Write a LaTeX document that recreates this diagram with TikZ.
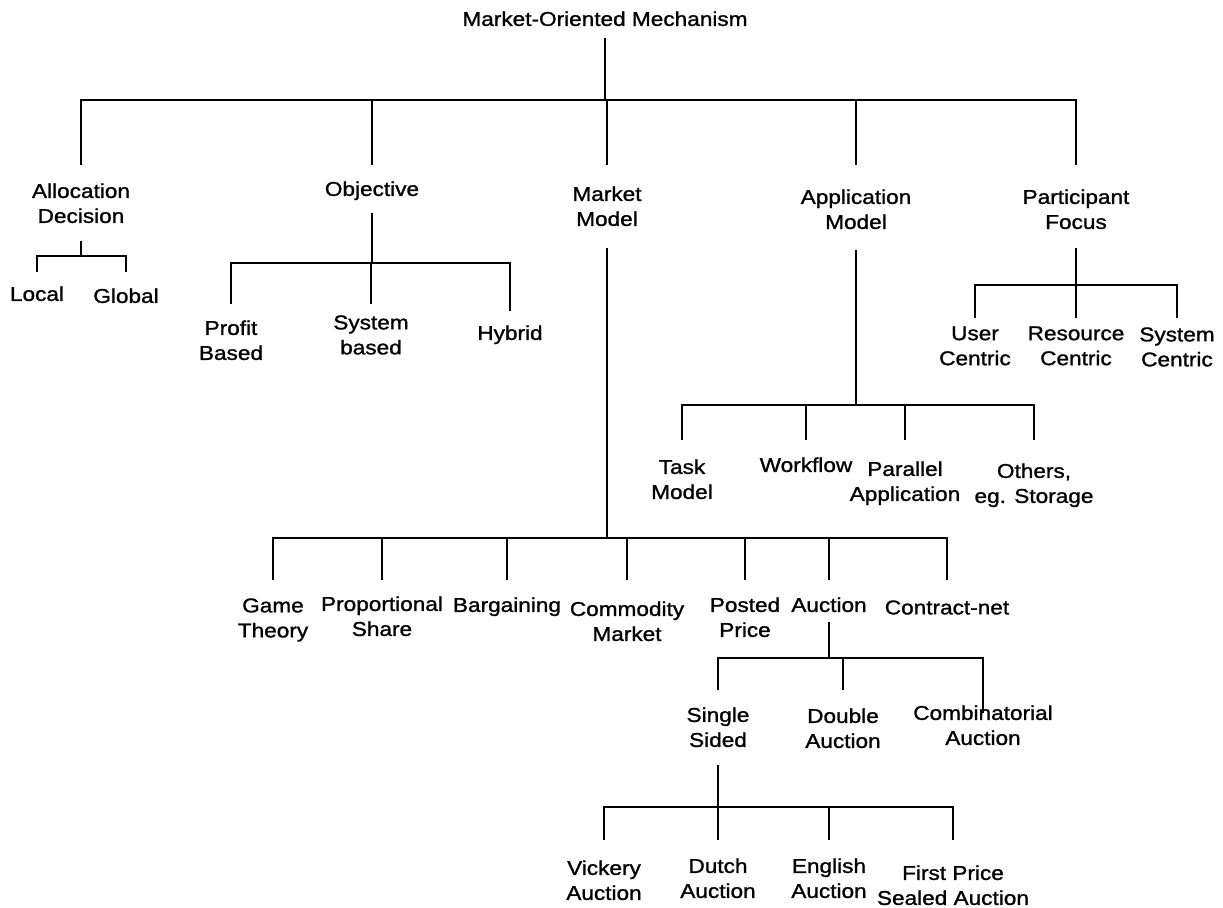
\documentclass[tikz,border=0pt]{standalone}
\usepackage{fontspec}
\setmainfont{Liberation Sans}[FakeStretch=1.13,FakeBold=1.2]
\usepackage{tikz}
\usetikzlibrary{calc}

\begin{document}
\begin{tikzpicture}[x=0.5pt,y=-0.5pt,font=\fontsize{10}{12.5}\selectfont,
  lbl/.style={align=center,inner sep=0pt,anchor=north},
  link/.style={line width=0.85pt},
  stem/.style={line width=1.3pt}]
  \useasboundingbox (0,0) rectangle (1223,907);

  % labels
  \node[lbl] (root) at (605,11) {Market-Oriented Mechanism};

  \node[lbl] (alloc) at (81,183) {Allocation\\Decision};
  \node[lbl] (objective) at (372,181) {Objective};
  \node[lbl] (market) at (607,186) {Market\\Model};
  \node[lbl] (appmodel) at (856,189) {Application\\Model};
  \node[lbl] (partfocus) at (1076,189) {Participant\\Focus};

  \node[lbl] (local) at (37,286) {Local};
  \node[lbl] (global) at (126,288) {Global};

  \node[lbl] (profit) at (231,320) {Profit\\Based};
  \node[lbl] (sysbased) at (371,315) {System\\based};
  \node[lbl] (hybrid) at (510,325) {Hybrid};

  \node[lbl] (user) at (975,326) {User\\Centric};
  \node[lbl] (resource) at (1076,326) {Resource\\Centric};
  \node[lbl] (syscentric) at (1177,327) {System\\Centric};

  \node[lbl] (task) at (682,459) {Task\\Model};
  \node[lbl] (workflow) at (806,457) {Workflow};
  \node[lbl] (parallel) at (905,461) {Parallel\\Application};
  \node[lbl] (others) at (1034,463) {Others,\\eg. Storage};

  \node[lbl] (game) at (273,598) {Game\\Theory};
  \node[lbl] (propshare) at (382,596) {Proportional\\Share};
  \node[lbl] (bargain) at (507,597) {Bargaining};
  \node[lbl] (commodity) at (627,601) {Commodity\\Market};
  \node[lbl] (posted) at (745,597) {Posted\\Price};
  \node[lbl] (auction) at (829,597) {Auction};
  \node[lbl] (contract) at (947,600) {Contract-net};

  \node[lbl] (single) at (718,707) {Single\\Sided};
  \node[lbl] (double) at (843,708) {Double\\Auction};
  \node[lbl] (combin) at (983,705) {Combinatorial\\Auction};

  \node[lbl] (vickery) at (604,860) {Vickery\\Auction};
  \node[lbl] (dutch) at (718,858) {Dutch\\Auction};
  \node[lbl] (english) at (829,858) {English\\Auction};
  \node[lbl] (firstprice) at (953,865) {First Price\\Sealed Auction};

  % bars and drops
  \coordinate (topbar) at (0,100);
  \coordinate (topend) at (0,165);
  \foreach \c in {alloc,objective,market,appmodel,partfocus}
    \draw[link,shorten <=6pt] (root.south) |- (\c |- topbar) -- (\c |- topend);

  \coordinate (allocbar) at (0,256);
  \coordinate (allocend) at (0,272);
  \foreach \c in {local,global}
    \draw[link,shorten <=9pt] (alloc.south) |- (\c |- allocbar) -- (\c |- allocend);

  \coordinate (objbar) at (0,263);
  \coordinate (objend) at (0,304);
  \foreach \c in {profit,sysbased}
    \draw[link,shorten <=6.5pt] (objective.south) |- (\c |- objbar) -- (\c |- objend);
  \coordinate (hybridend) at (0,311);
  \draw[link,shorten <=6.5pt] (objective.south) |- (hybrid |- objbar) -- (hybrid |- hybridend);

  \coordinate (partbar) at (0,285);
  \coordinate (partend) at (0,318);
  \foreach \c in {user,resource,syscentric}
    \draw[link,shorten <=9.5pt] (partfocus.south) |- (\c |- partbar) -- (\c |- partend);
  \draw[stem,shorten <=9.5pt] (partfocus.south) -- (partfocus.south |- partbar);

  \coordinate (appbar) at (0,405);
  \coordinate (append) at (0,440);
  \foreach \c in {task,workflow,parallel,others}
    \draw[link,shorten <=10.5pt] (appmodel.south) |- (\c |- appbar) -- (\c |- append);
  \draw[stem,shorten <=10.5pt] (appmodel.south) -- (appmodel.south |- appbar);

  \coordinate (marketbar) at (0,538);
  \coordinate (marketend) at (0,580);
  \foreach \c in {game,propshare,bargain,commodity,posted,auction,contract}
    \draw[link,shorten <=11pt] (market.south) |- (\c |- marketbar) -- (\c |- marketend);
  \draw[stem,shorten <=11pt] (market.south) -- (market.south |- marketbar);

  \coordinate (auctionbar) at (0,658);
  \coordinate (auctionend) at (0,690);
  \foreach \c in {single,double}
    \draw[link,shorten <=5pt] (auction.south) |- (\c |- auctionbar) -- (\c |- auctionend);
  \coordinate (combinend) at (0,713);
  \draw[link,shorten <=5pt] (auction.south) |- (combin |- auctionbar) -- (combin |- combinend);

  \coordinate (singlebar) at (0,807);
  \coordinate (singleend) at (0,840);
  \foreach \c in {vickery,dutch,english,firstprice}
    \draw[link,shorten <=9pt] (single.south) |- (\c |- singlebar) -- (\c |- singleend);
\end{tikzpicture}
\end{document}
